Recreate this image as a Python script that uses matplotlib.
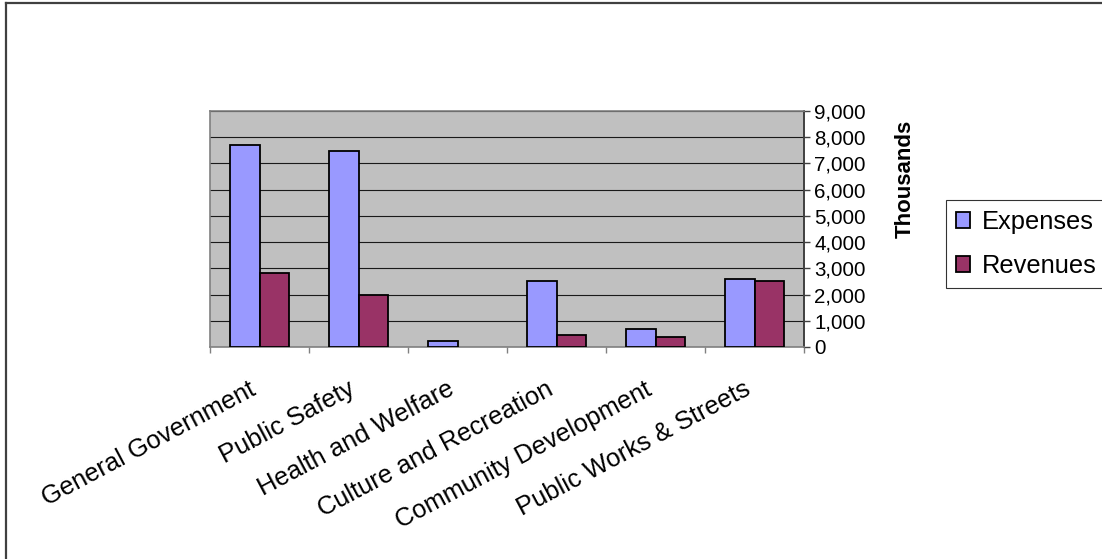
import matplotlib
matplotlib.use("Agg")
import matplotlib.pyplot as plt
import numpy as np
from matplotlib.lines import Line2D
from matplotlib.ticker import FuncFormatter, FixedLocator
from matplotlib.transforms import ScaledTranslation

plt.rcParams['font.family'] = ['Liberation Sans', 'DejaVu Sans']

categories = ["General Government", "Public Safety", "Health and Welfare",
              "Culture and Recreation", "Community Development",
              "Public Works & Streets"]
expenses = [7720, 7490, 240, 2520, 690, 2600]      # thousands
revenues = [2840, 1990, 0, 460, 380, 2520]         # thousands
series_names = ["Expenses", "Revenues"]
y_ticks = [0, 1000, 2000, 3000, 4000, 5000, 6000, 7000, 8000, 9000]

W, H = 1102, 559
fig = plt.figure(figsize=(W / 100, H / 100), dpi=100)
fig.patch.set_facecolor("white")

# plot area in pixel coordinates
x0, x1, ytop, ybot = 210, 804, 111, 347
ax = fig.add_axes([x0 / W, 1 - ybot / H, (x1 - x0) / W, (ybot - ytop) / H])
ax.set_facecolor("#C0C0C0")

x = np.arange(len(categories))
bw = 0.293


def outline(values):
    # empty bars get no outline
    return [1.3 if v > 0 else 0 for v in values]


ax.bar(x - bw / 2, expenses, bw, color="#9999FF", edgecolor="black",
       linewidth=outline(expenses), label=series_names[0], zorder=3)
ax.bar(x + bw / 2, revenues, bw, color="#993366", edgecolor="black",
       linewidth=outline(revenues), label=series_names[1], zorder=3)

ax.set_xlim(-0.5, len(categories) - 0.5)
ax.set_ylim(0, 9000)

# value axis on the right
ax.yaxis.tick_right()
ax.yaxis.set_major_locator(FixedLocator(y_ticks))
ax.yaxis.set_major_formatter(FuncFormatter(lambda v, p: f"{int(v):,}"))
ax.tick_params(axis="y", direction="out", length=4.5, width=1, color="#404040",
               labelsize=14.8, pad=3)
ax.grid(axis="y", color="#1a1a1a", linewidth=0.8, zorder=1)
ax.set_axisbelow(True)

# category axis: ticks between categories, labels at centres
ax.xaxis.set_major_locator(FixedLocator(np.arange(len(categories) + 1) - 0.5))
ax.xaxis.set_major_formatter(FuncFormatter(lambda v, p: ""))
ax.tick_params(axis="x", which="major", direction="out", length=4.5, width=1,
               color="#808080")
ax.set_xticks(x, minor=True)
ax.set_xticklabels(categories, minor=True, rotation=28, ha="right", va="top",
                   rotation_mode="anchor", fontsize=18.4)
ax.tick_params(axis="x", which="minor", length=0, pad=26)
shift = ScaledTranslation(-11 / 100, 6 / 100, fig.dpi_scale_trans)
for lbl in ax.get_xticklabels(minor=True):
    lbl.set_transform(lbl.get_transform() + shift)

for side in ["top", "left", "bottom"]:
    ax.spines[side].set_color("#808080")
    ax.spines[side].set_linewidth(1.2)
ax.spines["right"].set_color("#404040")
ax.spines["right"].set_linewidth(1.4)

fig.text(905 / W, 1 - 179 / H, "Thousands", rotation=90, ha="center",
         va="center", fontsize=16, fontweight="bold")

leg = fig.legend(loc="upper left", bbox_to_anchor=(946 / W, 1 - 200 / H),
                 fontsize=18.4, frameon=True, fancybox=False, shadow=False,
                 handlelength=0.55, handleheight=0.55, handletextpad=0.45,
                 labelspacing=0.78, borderpad=0.4, borderaxespad=0)
leg.get_frame().set_edgecolor("black")
leg.get_frame().set_linewidth(0.8)

# outer chart border (top and left edges visible)
fig.add_artist(Line2D([6 / W, 1], [1 - 3 / H, 1 - 3 / H], color="#404040",
                      linewidth=1.6, transform=fig.transFigure))
fig.add_artist(Line2D([6 / W, 6 / W], [1 - 3 / H, 0], color="#404040",
                      linewidth=1.6, transform=fig.transFigure))

fig.savefig("out.png", dpi=100)
